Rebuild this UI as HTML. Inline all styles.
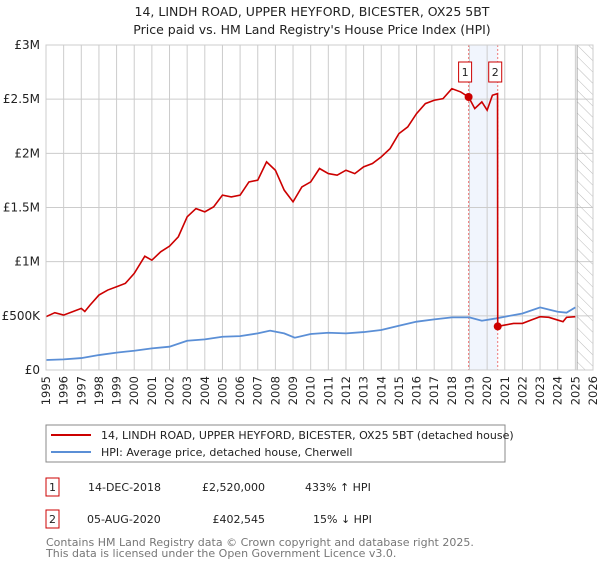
<!DOCTYPE html>
<html><head><meta charset="utf-8"><style>
body{margin:0;background:#fff;width:600px;height:560px;overflow:hidden;font-family:"DejaVu Sans","Liberation Sans",sans-serif;}
svg text{font-family:"DejaVu Sans","Liberation Sans",sans-serif;}
</style></head><body>
<svg id="chart" width="600" height="560">
<defs><pattern id="hatch" width="8" height="8" patternUnits="userSpaceOnUse" patternTransform="rotate(-45)"><line x1="0" y1="0" x2="0" y2="8" stroke="#bbb" stroke-width="1"/></pattern></defs>
<text x="312" y="16" text-anchor="middle" font-size="12.5" fill="#222">14, LINDH ROAD, UPPER HEYFORD, BICESTER, OX25 5BT</text>
<text x="312" y="34" text-anchor="middle" font-size="12.5" fill="#222">Price paid vs. HM Land Registry's House Price Index (HPI)</text>
<g id="grid"></g><g id="marks"></g><g id="axes"></g>
<rect x="46" y="425" width="459" height="37" fill="#fff" stroke="#888"/>
<line x1="51" y1="435" x2="91" y2="435" stroke="#cc0000" stroke-width="2"/>
<text x="101" y="439" font-size="11" fill="#222">14, LINDH ROAD, UPPER HEYFORD, BICESTER, OX25 5BT (detached house)</text>
<line x1="51" y1="452" x2="91" y2="452" stroke="#5b8fd6" stroke-width="2"/>
<text x="101" y="456" font-size="11" fill="#222">HPI: Average price, detached house, Cherwell</text>
<rect x="46" y="478" width="13" height="18" fill="#fff" stroke="#cc0000"/>
<text x="52.5" y="491" text-anchor="middle" font-size="11" fill="#222">1</text>
<text x="88" y="491" font-size="11" fill="#222">14-DEC-2018</text>
<text x="265" y="491" text-anchor="end" font-size="11" fill="#222">£2,520,000</text>
<text x="305" y="491" font-size="11" fill="#222">433% ↑ HPI</text>
<rect x="46" y="510" width="13" height="18" fill="#fff" stroke="#cc0000"/>
<text x="52.5" y="523" text-anchor="middle" font-size="11" fill="#222">2</text>
<text x="87" y="523" font-size="11" fill="#222">05-AUG-2020</text>
<text x="265" y="523" text-anchor="end" font-size="11" fill="#222">£402,545</text>
<text x="313" y="523" font-size="11" fill="#222">15% ↓ HPI</text>
<text x="46" y="546" font-size="11" fill="#777">Contains HM Land Registry data © Crown copyright and database right 2025.</text>
<text x="46" y="557" font-size="11" fill="#777">This data is licensed under the Open Government Licence v3.0.</text>
</svg>
<script>
const hpiYears=[1995,1996,1997,1998,1999,2000,2001,2002,2003,2004,2005,2006,2007,2007.7,2008.5,2009.1,2010,2011,2012,2013,2014,2015,2016,2017,2018,2019,2019.7,2020.5,2021,2022,2023,2024,2024.5,2025];
const hpiValues=[92,98,110,138,160,178,200,215,270,283,307,313,338,363,338,298,332,344,338,350,369,409,446,467,486,486,455,476,492,522,578,538,529,578];
const redYears=[1995,1995.5,1996,1996.5,1997,1997.2,1997.5,1998,1998.5,1999,1999.5,2000,2000.6,2001,2001.5,2002,2002.5,2003,2003.5,2004,2004.5,2005,2005.5,2006,2006.5,2007,2007.5,2008,2008.5,2009,2009.5,2010,2010.5,2011,2011.5,2012,2012.5,2013,2013.5,2014,2014.5,2015,2015.5,2016,2016.5,2017,2017.5,2018,2018.5,2018.95,2019.3,2019.7,2020,2020.3,2020.59,2020.6,2021,2021.5,2022,2022.5,2023,2023.5,2024,2024.3,2024.5,2025];
const redValues=[492,529,507,538,569,540,600,692,738,768,800,892,1050,1014,1091,1143,1230,1414,1490,1460,1506,1614,1598,1614,1736,1752,1921,1844,1660,1552,1690,1736,1860,1813,1798,1844,1813,1875,1906,1967,2044,2182,2244,2367,2459,2490,2505,2597,2567,2520,2413,2475,2398,2536,2551,402.5,415,430,430,461,492,486,461,446,486,492];
const saleYears=[2018.95,2020.6];
const saleValues=[2520,402.5];
const saleLabels=["1","2"];
const yTicks=[0,500,1000,1500,2000,2500,3000];
const yTickLabels=["£0","£500K","£1M","£1.5M","£2M","£2.5M","£3M"];
const NS="http://www.w3.org/2000/svg";
const X0=46,X1=593,Y0=370,Y1=45;
const xs=y=>X0+(y-1995)/31*(X1-X0);
const ys=v=>Y0-v/3000*(Y0-Y1);
function el(tag,attrs,parent){const e=document.createElementNS(NS,tag);for(const k in attrs)e.setAttribute(k,attrs[k]);parent.appendChild(e);return e;}
const grid=document.getElementById('grid'),marks=document.getElementById('marks'),axes=document.getElementById('axes');
let r=el('rect',{x:X0,y:Y1,width:X1-X0,height:Y0-Y1,fill:'#fff'},grid);


let sh=el('rect',{x:xs(saleYears[0]),y:Y1,width:xs(saleYears[1])-xs(saleYears[0]),height:Y0-Y1,fill:'#eef3fc',opacity:0.8},grid);


for(let yr=1995;yr<=2026;yr++){
 const x=xs(yr);
 let g=el('line',{x1:x,y1:Y1,x2:x,y2:Y0,stroke:'#cccccc','stroke-width':1},grid);
 
 
 let t=el('text',{x:0,y:0,'font-size':11.5,fill:'#222','text-anchor':'end',transform:`translate(${x+4},${Y0+6}) rotate(-90)`},axes);
 t.textContent=yr;
 
 
}
yTicks.forEach((v,i)=>{
 const y=ys(v);
 let g=el('line',{x1:X0,y1:y,x2:X1,y2:y,stroke:'#cccccc','stroke-width':1},grid);
 
 
 let t=el('text',{x:X0-6,y:y+4,'font-size':12,fill:'#222','text-anchor':'end'},axes);
 t.textContent=yTickLabels[i];
 
 
});
let h=el('rect',{x:xs(2025.1),y:Y1,width:X1-xs(2025.1),height:Y0-Y1,fill:'url(#hatch)',stroke:'#999','stroke-width':0.8},grid);


saleYears.forEach((yr,i)=>{
 let l=el('line',{x1:xs(yr),y1:Y1,x2:xs(yr),y2:Y0,stroke:'#ee7777','stroke-width':1,'stroke-dasharray':'2,2'},grid);
 
 
});
let hp=el('polyline',{points:hpiYears.map((y,i)=>xs(y)+','+ys(hpiValues[i])).join(' '),fill:'none',stroke:'#5b8fd6','stroke-width':1.8},marks);


let rp=el('polyline',{points:redYears.map((y,i)=>xs(y)+','+ys(redValues[i])).join(' '),fill:'none',stroke:'#cc0000','stroke-width':1.6},marks);


saleYears.forEach((yr,i)=>{
 let c=el('circle',{cx:xs(yr),cy:ys(saleValues[i]),r:4,fill:'#cc0000'},marks);
 
 
 const bx=xs(yr)-(i==0?10:9);
 let b=el('rect',{x:bx,y:62,width:13,height:20,fill:'#fff',stroke:'#cc0000'},marks);
 
 
 let t=el('text',{x:bx+6.5,y:76,'font-size':11,fill:'#222','text-anchor':'middle'},marks);
 t.textContent=saleLabels[i];
 
 
});
let b=el('rect',{x:X0,y:Y1,width:X1-X0,height:Y0-Y1,fill:'none',stroke:'#cccccc'},axes);


</script>
</body></html>
